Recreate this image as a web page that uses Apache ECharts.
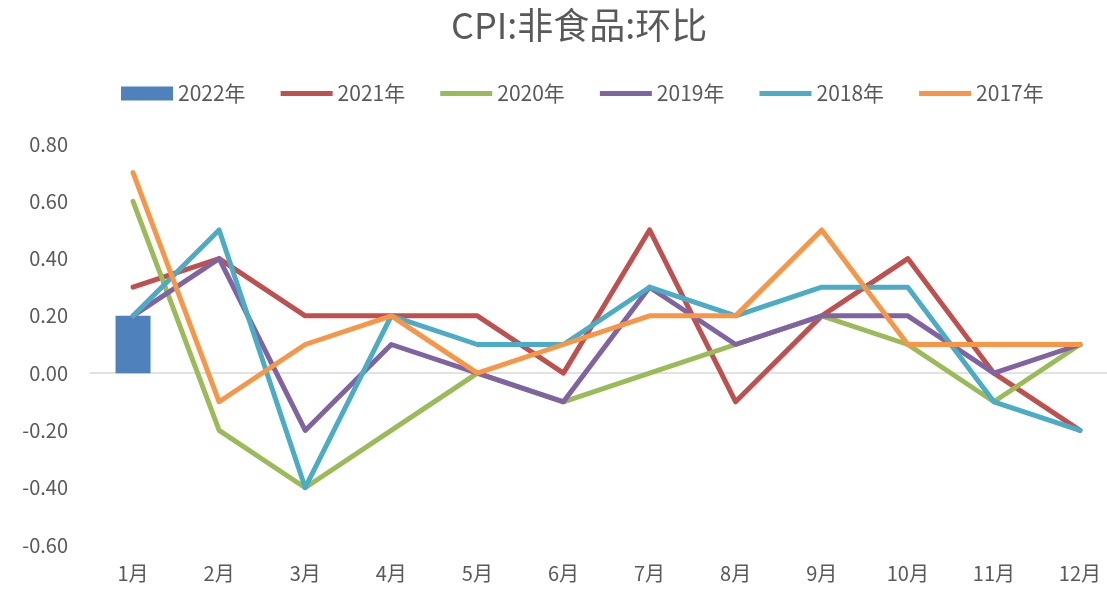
<!DOCTYPE html>
<html>
<head>
<meta charset="utf-8">
<script src="https://cdn.jsdelivr.net/npm/echarts@6/dist/echarts.min.js"></script>
<style>
  html, body { margin: 0; padding: 0; background: #fff; }
  #chart { width: 1107px; height: 590px; }
</style>
</head>
<body>
<div id="chart"></div>
<script>
const months = ["1月", "2月", "3月", "4月", "5月", "6月", "7月", "8月", "9月", "10月", "11月", "12月"];
const y2022 = [0.2];
const y2021 = [0.3, 0.4, 0.2, 0.2, 0.2, 0.0, 0.5, -0.1, 0.2, 0.4, 0.0, -0.2];
const y2020 = [0.6, -0.2, -0.4, -0.2, 0.0, -0.1, 0.0, 0.1, 0.2, 0.1, -0.1, 0.1];
const y2019 = [0.2, 0.4, -0.2, 0.1, 0.0, -0.1, 0.3, 0.1, 0.2, 0.2, 0.0, 0.1];
const y2018 = [0.2, 0.5, -0.4, 0.2, 0.1, 0.1, 0.3, 0.2, 0.3, 0.3, -0.1, -0.2];
const y2017 = [0.7, -0.1, 0.1, 0.2, 0.0, 0.1, 0.2, 0.2, 0.5, 0.1, 0.1, 0.1];

const font = "Noto Sans CJK SC";
const textColor = "#595959";
const lineIcon = "path://M0,0 H52 V5 H0 Z";

const line = (name, color, data) => ({
  name: name,
  type: "line",
  data: data,
  color: color,
  symbol: "none",
  lineStyle: { width: 5, color: color, cap: "round", join: "round" },
  z: 3,
});

const chart = echarts.init(document.getElementById("chart"));
chart.setOption({
  animation: false,
  title: {
    text: "CPI:非食品:环比",
    left: 446,
    top: 2,
    textStyle: { fontFamily: font, fontSize: 36, fontWeight: "normal", color: textColor },
  },
  legend: {
    top: 78,
    left: 116,
    itemWidth: 52,
    itemHeight: 14,
    itemGap: 35,
    textStyle: { fontFamily: font, fontSize: 21, color: textColor },
    data: [
      { name: "2022年", icon: "rect" },
      { name: "2021年", icon: lineIcon },
      { name: "2020年", icon: lineIcon },
      { name: "2019年", icon: lineIcon },
      { name: "2018年", icon: lineIcon },
      { name: "2017年", icon: lineIcon },
    ],
  },
  grid: { left: 90, width: 1033, top: 144, bottom: 45, outerBoundsMode: "none" },
  xAxis: {
    type: "category",
    data: months,
    axisLine: { onZero: true, lineStyle: { color: "#d9d9d9", width: 1.5 } },
    axisTick: { show: false },
    axisLabel: { fontFamily: font, fontSize: 20, color: textColor, margin: 18 },
  },
  yAxis: {
    type: "value",
    min: -0.6,
    max: 0.8,
    interval: 0.2,
    splitLine: { show: false },
    axisLine: { show: false },
    axisTick: { show: false },
    axisLabel: {
      fontFamily: font,
      fontSize: 20,
      color: textColor,
      margin: 22,
      formatter: (v) => v.toFixed(2),
    },
  },
  series: [
    {
      name: "2022年",
      type: "bar",
      data: y2022,
      color: "#4f81bd",
      barWidth: 35,
      z: 2,
    },
    line("2021年", "#c0504d", y2021),
    line("2020年", "#9bbb59", y2020),
    line("2019年", "#8064a2", y2019),
    line("2018年", "#4bacc6", y2018),
    line("2017年", "#f79646", y2017),
  ],
});
</script>
</body>
</html>
